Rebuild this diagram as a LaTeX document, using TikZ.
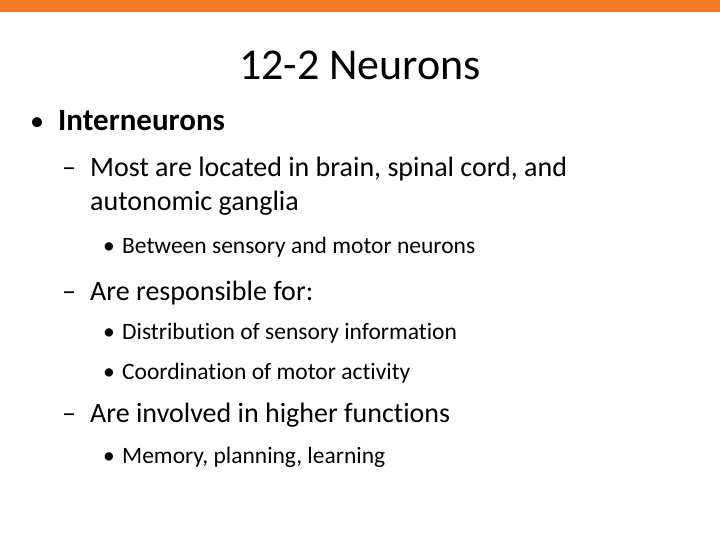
\documentclass[tikz,border=0pt]{standalone}
\usepackage{fontspec}
\setmainfont[RawFeature=-liga]{Carlito}
\definecolor{bar}{RGB}{244,121,32}
\begin{document}
\begin{tikzpicture}[x=1pt,y=-1pt,
  t/.style={anchor=base west,inner sep=0pt},
  lone/.style={t,font=\fontsize{31}{36}\selectfont\bfseries},
  ltwo/.style={t,font=\fontsize{28}{33}\selectfont},
  lthree/.style={t,font=\fontsize{23.5}{28}\selectfont}]
\useasboundingbox (0,0) rectangle (720,540);
\fill[bar] (0,0) rectangle (720,12);
\node[anchor=base,inner sep=0pt,font=\fontsize{44}{50}\selectfont] (title) at (360,80) {12-2 Neurons};
\node[t,font=\fontsize{28}{32}\selectfont] (b1) at (30,131) {•};
\node[lone] (t1) at (58,131) {Interneurons};
\node[ltwo] (d1) at (62,177) {–};
\node[ltwo] (t2) at (90,177) {Most are located in brain, spinal cord, and};
\node[ltwo] (t3) at (90,211) {autonomic ganglia};
\node[lthree] (b3) at (103,254) {•};
\node[lthree] (t4) at (122,254) {Between sensory and motor neurons};
\node[ltwo] (d2) at (62,300) {–};
\node[ltwo] (t5) at (90,300) {Are responsible for:};
\node[lthree] (b4) at (103,339) {•};
\node[lthree] (t6) at (122,339) {Distribution of sensory information};
\node[lthree] (b5) at (103,379) {•};
\node[lthree] (t7) at (122,379) {Coordination of motor activity};
\node[ltwo] (d3) at (62,422) {–};
\node[ltwo] (t8) at (90,422) {Are involved in higher functions};
\node[lthree] (b6) at (103,463) {•};
\node[lthree] (t9) at (122,463) {Memory, planning, learning};
\end{tikzpicture}
\end{document}
